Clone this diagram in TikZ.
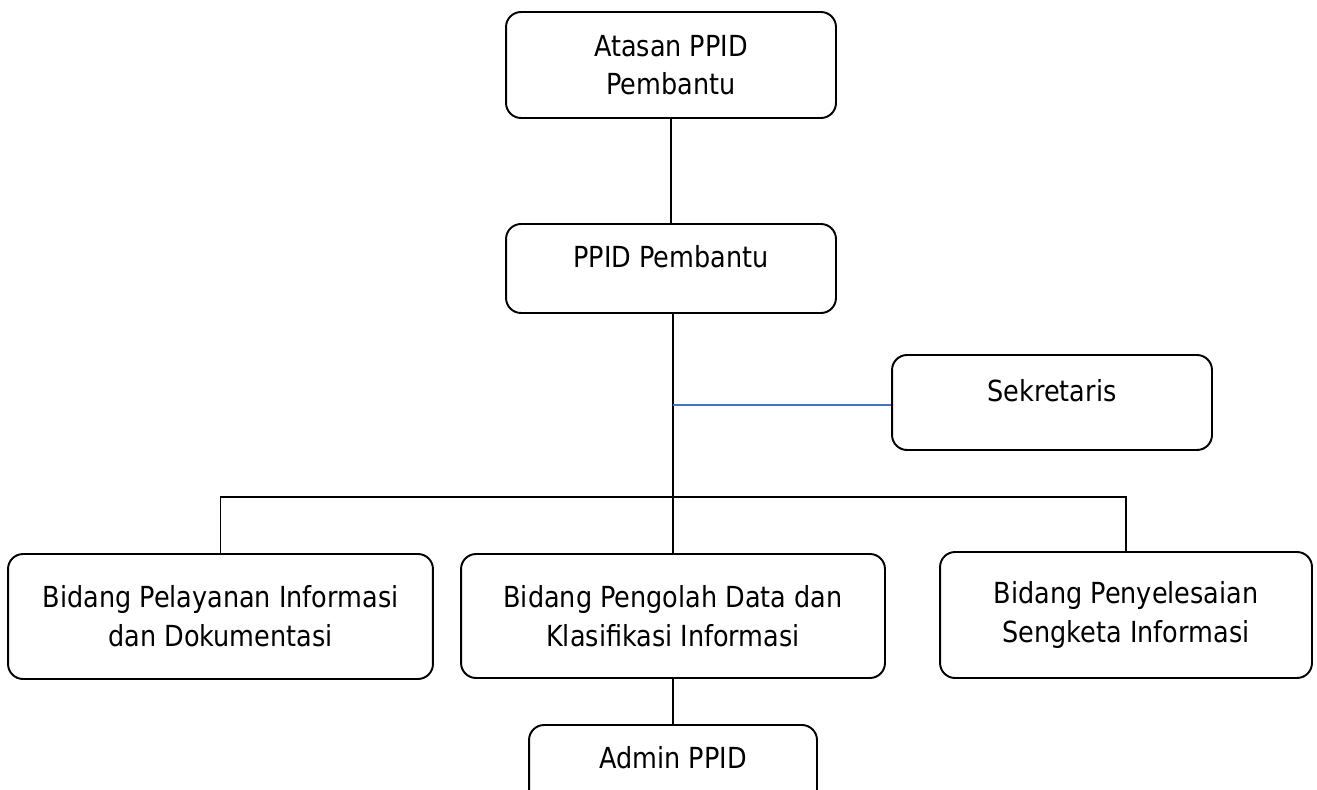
\documentclass[tikz,border=0pt]{standalone}
\usepackage{fontspec}
\setmainfont{DejaVu Sans}[FakeStretch=0.88]
\usepackage{tikz}
\usetikzlibrary{positioning, calc}
\definecolor{sekblue}{RGB}{68, 114, 196}

\tikzset{
	unit/.style={draw, line width=1.1pt, rounded corners=0.3cm, align=center,
		font=\fontsize{16.5}{22}\selectfont, inner sep=0pt},
	oneline/.style={unit, text depth=14pt},
	link/.style={line width=0.9pt}
}

\begin{document}
\begin{tikzpicture}[x=0.02cm, y=-0.02cm]
	\useasboundingbox (0,0) rectangle (1317,790);
	\clip (0,0) rectangle (1317,790);
	\node[unit, minimum width=6.6cm, minimum height=2.12cm] (atasan) at (671,65) {Atasan PPID\\Pembantu};
	\node[oneline, minimum width=6.6cm, minimum height=1.78cm] (ppid) at (671,268.5) {PPID Pembantu};
	\node[oneline, minimum width=6.4cm, minimum height=1.9cm] (sekretaris) at (1052,402.5) {Sekretaris};
	\node[unit, minimum width=8.5cm, minimum height=2.5cm] (pelayanan) at (220.5,616.5) {Bidang Pelayanan Informasi\\dan Dokumentasi};
	\node[unit, minimum width=8.48cm, minimum height=2.48cm] (pengolah) at (673,616) {Bidang Pengolah Data dan\\Klasifikasi Informasi};
	\node[unit, minimum width=7.44cm, minimum height=2.52cm] (penyelesaian) at (1126,615) {Bidang Penyelesaian\\Sengketa Informasi};
	\node[oneline, minimum width=5.76cm, minimum height=1.78cm] (admin) at (673,769.5) {Admin PPID};
	\coordinate (cabang) at (673,405);
	\coordinate (bagi) at (673,497);
	\draw[link] (atasan) -- (ppid);
	\draw[link] (ppid.south -| pengolah) -- (pengolah.north);
	\draw[line width=0.8pt, sekblue] (cabang) -- (cabang -| sekretaris.west);
	\draw[link] (pelayanan.north) |- (bagi) -| (penyelesaian.north);
	\draw[link] (pengolah) -- (admin);
\end{tikzpicture}
\end{document}
